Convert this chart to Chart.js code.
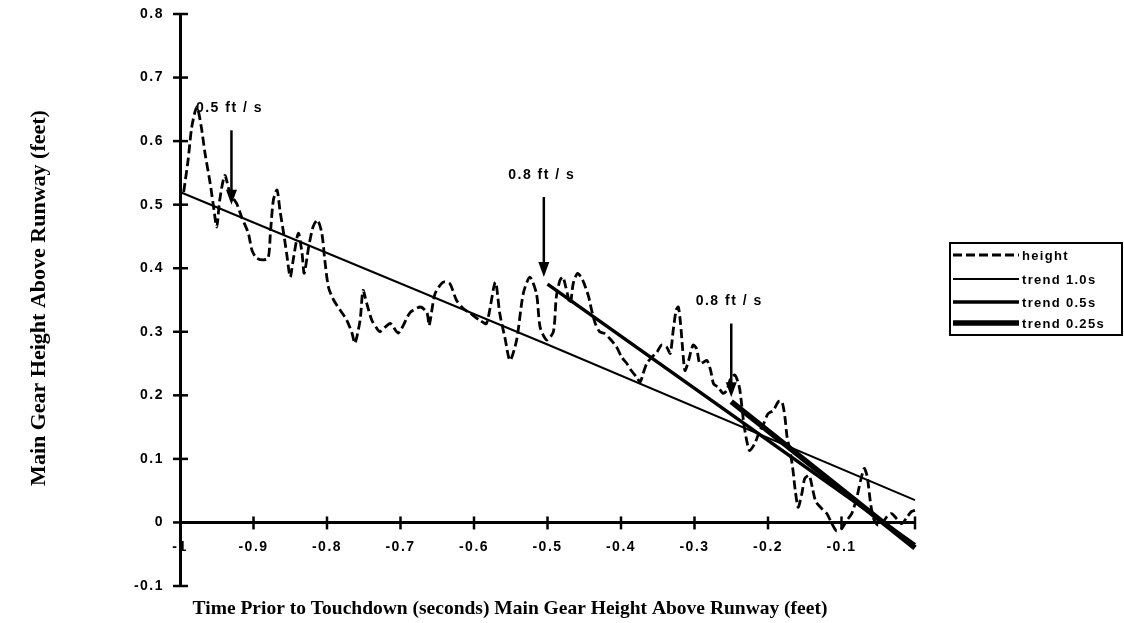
<!DOCTYPE html>
<html>
<head>
<meta charset="utf-8">
<script src="https://cdn.jsdelivr.net/npm/chart.js@4.4.1/dist/chart.umd.min.js"></script>
<style>
  body { margin: 0; background: #fff; }
  #wrap { width: 1124px; height: 623px; }
</style>
</head>
<body>
<div id="wrap"><canvas id="gearChart" width="1124" height="623"></canvas></div>
<script>
// measured main gear height, time relative to touchdown (s) / height (ft)
const heightTime = [
  -0.995, -0.989, -0.984, -0.977, -0.971, -0.966, -0.959, -0.955, -0.950, -0.946,
  -0.939, -0.932, -0.923, -0.916, -0.907, -0.902, -0.896, -0.887, -0.880, -0.877,
  -0.873, -0.868, -0.864, -0.859, -0.855, -0.850, -0.846, -0.839, -0.834, -0.831,
  -0.825, -0.819, -0.813, -0.807, -0.803, -0.798, -0.791, -0.782, -0.773, -0.766,
  -0.762, -0.755, -0.751, -0.746, -0.739, -0.732, -0.728, -0.714, -0.703, -0.687,
  -0.673, -0.664, -0.661, -0.653, -0.642, -0.633, -0.624, -0.615, -0.605, -0.592,
  -0.583, -0.571, -0.565, -0.558, -0.551, -0.542, -0.533, -0.524, -0.515, -0.510,
  -0.501, -0.492, -0.488, -0.483, -0.479, -0.475, -0.469, -0.465, -0.459, -0.452,
  -0.444, -0.440, -0.435, -0.429, -0.422, -0.415, -0.406, -0.399, -0.392, -0.386,
  -0.379, -0.374, -0.370, -0.365, -0.358, -0.351, -0.345, -0.338, -0.333, -0.329,
  -0.325, -0.322, -0.319, -0.316, -0.313, -0.308, -0.302, -0.297, -0.293, -0.288,
  -0.283, -0.278, -0.274, -0.268, -0.261, -0.256, -0.251, -0.245, -0.239, -0.236,
  -0.233, -0.229, -0.225, -0.218, -0.212, -0.206, -0.200, -0.193, -0.186, -0.181,
  -0.177, -0.174, -0.170, -0.166, -0.163, -0.159, -0.154, -0.150, -0.144, -0.139,
  -0.135, -0.127, -0.120, -0.113, -0.107, -0.100, -0.093, -0.086, -0.079, -0.074,
  -0.069, -0.065, -0.061, -0.057, -0.051, -0.045, -0.039, -0.032, -0.025, -0.018,
  -0.011, -0.005, 0
];
const heightFeet = [
  0.520, 0.570, 0.622, 0.654, 0.622, 0.581, 0.534, 0.502, 0.465, 0.507,
  0.546, 0.518, 0.502, 0.480, 0.455, 0.428, 0.416, 0.413, 0.416, 0.455,
  0.507, 0.523, 0.491, 0.455, 0.424, 0.386, 0.413, 0.455, 0.424, 0.392,
  0.433, 0.465, 0.476, 0.455, 0.413, 0.370, 0.350, 0.334, 0.318, 0.298,
  0.282, 0.318, 0.365, 0.345, 0.318, 0.305, 0.300, 0.313, 0.298, 0.330,
  0.339, 0.330, 0.310, 0.360, 0.378, 0.376, 0.350, 0.337, 0.329, 0.318,
  0.313, 0.378, 0.329, 0.291, 0.255, 0.287, 0.360, 0.386, 0.360, 0.307,
  0.287, 0.300, 0.355, 0.381, 0.386, 0.370, 0.344, 0.376, 0.392, 0.381,
  0.355, 0.334, 0.313, 0.300, 0.297, 0.289, 0.276, 0.260, 0.250, 0.239,
  0.229, 0.221, 0.234, 0.250, 0.260, 0.268, 0.279, 0.276, 0.266, 0.302,
  0.334, 0.339, 0.313, 0.271, 0.239, 0.255, 0.279, 0.273, 0.250, 0.252,
  0.255, 0.239, 0.218, 0.213, 0.203, 0.208, 0.226, 0.232, 0.213, 0.187,
  0.156, 0.129, 0.113, 0.124, 0.142, 0.155, 0.171, 0.176, 0.190, 0.190,
  0.166, 0.134, 0.113, 0.082, 0.051, 0.024, 0.045, 0.069, 0.074, 0.051,
  0.033, 0.022, 0.014, -0.002, -0.013, -0.010, 0.003, 0.014, 0.040, 0.066,
  0.085, 0.072, 0.035, 0.008, -0.004, -0.002, 0.008, 0.014, 0.006, -0.002,
  0.008, 0.017, 0.019
];

// fitted trends over the last 1.0, 0.5 and 0.25 seconds
const trend10Time = [-1, -0.5, 0];
const trend10Feet = [0.52, 0.28, 0.035];
const trend05Time = [-0.5, 0];
const trend05Feet = [0.375, -0.035];
const trend025Time = [-0.25, 0];
const trend025Feet = [0.19, -0.04];

// sink rate callouts: arrow time, arrow start and tip heights
const calloutTime = [-0.93, -0.505, -0.25];
const calloutFrom = [0.617, 0.512, 0.313];
const calloutTo = [0.5, 0.386, 0.197];
const calloutText = ["0.5 ft / s", "0.8 ft / s", "0.8 ft / s"];

const legendNames = ["height", "trend 1.0s", "trend 0.5s", "trend 0.25s"];

const SANS = '"Liberation Sans", Arial, sans-serif';
const SERIF = '"Liberation Serif", "Times New Roman", serif';

function toPoints(xs, ys) {
  return xs.map((x, i) => ({ x: x, y: ys[i] }));
}

function fmt(v) {
  return String(Math.round(v * 10) / 10);
}

const lineStyles = [
  { width: 2.8, dash: [9, 4] },
  { width: 2, dash: [] },
  { width: 3.5, dash: [] },
  { width: 5.5, dash: [] },
];

// axis ticks, labels, titles, callouts and the boxed legend
const decorPlugin = {
  id: "decor",
  afterDraw(chart) {
    const ctx = chart.ctx;
    const xs = chart.scales.x;
    const ys = chart.scales.y;
    const area = chart.chartArea;
    const axisY = ys.getPixelForValue(0);

    ctx.save();
    ctx.strokeStyle = "#000";
    ctx.fillStyle = "#000";
    ctx.lineWidth = 2.5;
    ctx.font = "bold 14px " + SANS;
    ctx.letterSpacing = "1.5px";

    // y ticks cross the axis
    ctx.textAlign = "right";
    ctx.textBaseline = "middle";
    ys.ticks.forEach((t) => {
      const py = ys.getPixelForValue(t.value);
      ctx.beginPath();
      ctx.moveTo(area.left - 7, py);
      ctx.lineTo(area.left + 8, py);
      ctx.stroke();
      ctx.fillText(fmt(t.value), area.left - 16, py);
    });

    // x ticks along the zero line
    ctx.textAlign = "center";
    xs.ticks.forEach((t) => {
      const px = xs.getPixelForValue(t.value);
      if (t.value > -1) {
        ctx.beginPath();
        ctx.moveTo(px, axisY - 6);
        ctx.lineTo(px, axisY + 7);
        ctx.stroke();
      }
      if (Math.abs(t.value) > 1e-6) {
        ctx.fillText(fmt(t.value), px, axisY + 25);
      }
    });

    // callouts
    calloutTime.forEach((t, i) => {
      const px = xs.getPixelForValue(t);
      const top = ys.getPixelForValue(calloutFrom[i]);
      const tip = ys.getPixelForValue(calloutTo[i]);
      ctx.lineWidth = 2.5;
      ctx.beginPath();
      ctx.moveTo(px, top);
      ctx.lineTo(px, tip - 12);
      ctx.stroke();
      ctx.beginPath();
      ctx.moveTo(px - 5.5, tip - 15);
      ctx.lineTo(px + 5.5, tip - 15);
      ctx.lineTo(px, tip);
      ctx.closePath();
      ctx.fill();
      ctx.textAlign = "center";
      ctx.textBaseline = "middle";
      ctx.fillText(calloutText[i], px - 2, top - 22);
    });

    // legend box
    const lx = 950, ly = 243, lw = 172, lh = 92;
    const rows = [255, 279, 302, 323];
    ctx.lineWidth = 2;
    ctx.strokeRect(lx, ly, lw, lh);
    ctx.font = "bold 13px " + SANS;
    ctx.letterSpacing = "1.3px";
    ctx.textAlign = "left";
    legendNames.forEach((name, i) => {
      const st = lineStyles[i];
      ctx.lineWidth = st.width;
      ctx.setLineDash(st.dash);
      ctx.beginPath();
      ctx.moveTo(lx + 3, rows[i]);
      ctx.lineTo(lx + 69, rows[i]);
      ctx.stroke();
      ctx.setLineDash([]);
      ctx.fillText(name, lx + 72, rows[i] + 1);
    });

    // axis titles
    ctx.letterSpacing = "0px";
    ctx.font = "bold 19.5px " + SERIF;
    ctx.textAlign = "center";
    ctx.textBaseline = "middle";
    ctx.fillText("Time Prior to Touchdown (seconds) Main Gear Height Above Runway (feet)", 510, 609);
    ctx.font = "bold 22px " + SERIF;
    ctx.translate(39, 298);
    ctx.rotate(-Math.PI / 2);
    ctx.fillText("Main Gear Height Above Runway (feet)", 0, 0);
    ctx.restore();
  },
};

function lineSet(label, xs, ys, style) {
  return {
    label: label,
    data: toPoints(xs, ys),
    borderColor: "#000",
    borderWidth: style.width,
    borderDash: style.dash,
    borderCapStyle: "butt",
    pointRadius: 0,
    fill: false,
    clip: 8,
  };
}

const heightSet = lineSet("height", heightTime, heightFeet, lineStyles[0]);
heightSet.tension = 0.25;

new Chart(document.getElementById("gearChart").getContext("2d"), {
  type: "line",
  data: {
    datasets: [
      heightSet,
      lineSet("trend 1.0s", trend10Time, trend10Feet, lineStyles[1]),
      lineSet("trend 0.5s", trend05Time, trend05Feet, lineStyles[2]),
      lineSet("trend 0.25s", trend025Time, trend025Feet, lineStyles[3]),
    ],
  },
  options: {
    responsive: false,
    animation: false,
    layout: { padding: { top: 14, right: 209, bottom: 37, left: 0 } },
    plugins: {
      legend: { display: false },
      tooltip: { enabled: false },
    },
    scales: {
      x: {
        type: "linear",
        min: -1,
        max: 0,
        position: { y: 0 },
        ticks: { display: false, stepSize: 0.1 },
        grid: { display: false },
        border: { display: true, width: 3, color: "#000" },
      },
      y: {
        min: -0.1,
        max: 0.8,
        ticks: { display: false, stepSize: 0.1 },
        grid: { display: false },
        border: { display: true, width: 3, color: "#000" },
        afterFit: (scale) => {
          scale.width = 180;
        },
      },
    },
  },
  plugins: [decorPlugin],
});
</script>
</body>
</html>
